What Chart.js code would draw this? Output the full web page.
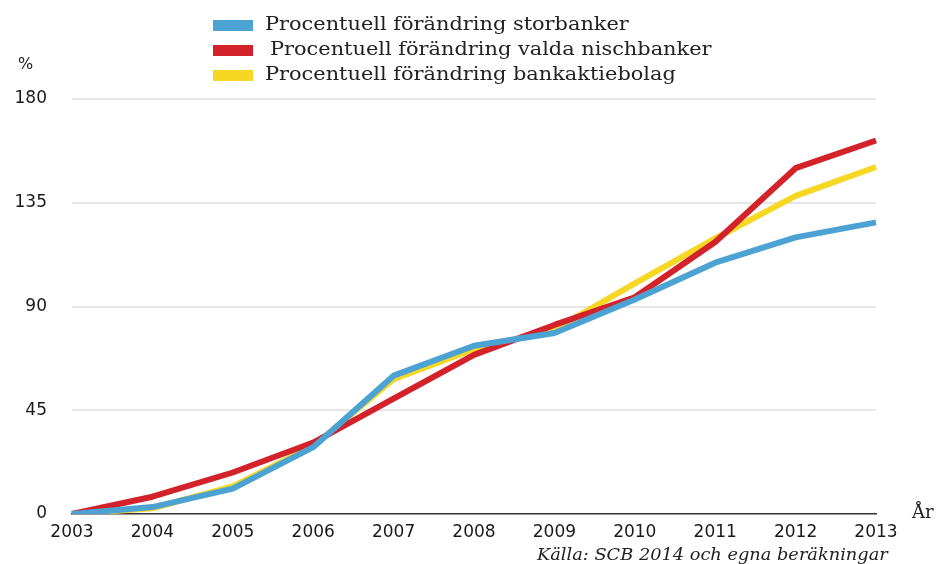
<!DOCTYPE html>
<html lang="sv">
<head>
  <meta charset="UTF-8">
  <title>Procentuell förändring</title>
  <script src="https://cdn.jsdelivr.net/npm/chart.js"></script>
  <style>
    html, body {
      margin: 0;
      padding: 0;
      background: #fff;
    }

    .wrap {
      position: relative;
      width: 939px;
      height: 564px;
      overflow: hidden;
    }

    canvas {
      position: absolute;
      left: 0;
      top: 0;
    }

    .legend {
      position: absolute;
      left: 213px;
      top: 11px;
      font-family: "DejaVu Serif", serif;
      font-size: 18px;
      color: #222;
    }

    .legend .row {
      height: 25px;
      line-height: 25px;
      white-space: nowrap;
    }

    .legend .box {
      display: inline-block;
      width: 40px;
      height: 11px;
      margin-right: 12px;
      vertical-align: -1px;
    }

    /* the original type is set wide, stretch it a little */
    .wide {
      display: inline-block;
      transform-origin: left center;
    }

    .note {
      position: absolute;
      font-family: "DejaVu Serif", serif;
      color: #222;
      white-space: nowrap;
      transform-origin: left center;
    }
  </style>
</head>
<body>
  <div class="wrap">
    <canvas id="chart" width="939" height="564"></canvas>
    <div class="legend" id="legend"></div>
    <div class="note" style="left:18px; top:54px; font-family:'DejaVu Sans',sans-serif; font-size:16px;">%</div>
    <div class="note" style="left:912px; top:501px; font-size:18px;">År</div>
    <div class="note" style="left:537px; top:545px; font-size:16px; font-style:italic; transform:scaleX(1.11);">Källa: SCB 2014 och egna beräkningar</div>
  </div>

  <script>
    const years = ['2003', '2004', '2005', '2006', '2007', '2008', '2009', '2010', '2011', '2012', '2013'];

    const storbanker = [0, 3, 11, 29, 60, 73, 78.5, 93, 109, 120, 126.5];
    const nischbanker = [0, 7.5, 18, 31, 50, 69, 82, 94, 118, 150, 162];
    const bankaktiebolag = [0, 2.5, 12, 29.5, 58.5, 71.5, 80, 100, 119.5, 138, 150.5];

    const seriesNames = [
      'Procentuell förändring storbanker',
      'Procentuell förändring valda nischbanker',
      'Procentuell förändring bankaktiebolag'
    ];
    const seriesColors = ['#4ca3d3', '#d3222a', '#f6d824'];

    const yTicks = [0, 45, 90, 135, 180];

    // html legend, second row is nudged a bit to the right like the original
    const legend = document.getElementById('legend');
    seriesNames.forEach((name, i) => {
      const row = document.createElement('div');
      row.className = 'row';
      row.innerHTML = `<span class="box" style="background:${seriesColors[i]}"></span>` +
        `<span class="wide" style="transform:scaleX(1.16);${i === 1 ? 'margin-left:5px' : ''}">${name}</span>`;
      legend.appendChild(row);
    });

    const ctx = document.getElementById('chart').getContext('2d');
    new Chart(ctx, {
      type: 'line',
      data: {
        labels: years,
        datasets: [storbanker, nischbanker, bankaktiebolag].map((d, i) => ({
          label: seriesNames[i],
          data: d,
          borderColor: seriesColors[i],
          backgroundColor: seriesColors[i],
          borderWidth: 6,
          pointRadius: 0,
          tension: 0,
          fill: false,
          borderJoinStyle: 'round'
        }))
      },
      options: {
        responsive: false,
        animation: false,
        layout: {
          padding: { top: 99, right: 63, left: 0, bottom: 0 }
        },
        plugins: {
          legend: { display: false },
          tooltip: { enabled: false }
        },
        scales: {
          x: {
            offset: false,
            afterFit: (axis) => { axis.height = 50; },
            grid: { display: false, drawTicks: false },
            border: { display: true, color: '#333', width: 1.5 },
            ticks: {
              padding: 8,
              color: '#1a1a1a',
              font: { family: 'DejaVu Sans', size: 17 },
              maxRotation: 0,
              autoSkip: false
            }
          },
          y: {
            min: 0,
            max: 180,
            afterFit: (axis) => { axis.width = 72; },
            afterBuildTicks: (axis) => {
              axis.ticks = yTicks.map(v => ({ value: v }));
            },
            grid: {
              color: (c) => c.tick.value === 0 ? 'rgba(0,0,0,0)' : '#e6e6e6',
              lineWidth: 2,
              drawTicks: false
            },
            border: { display: false },
            ticks: {
              padding: 25,
              color: '#1a1a1a',
              font: { family: 'DejaVu Sans', size: 17 }
            }
          }
        }
      }
    });
  </script>
</body>
</html>
